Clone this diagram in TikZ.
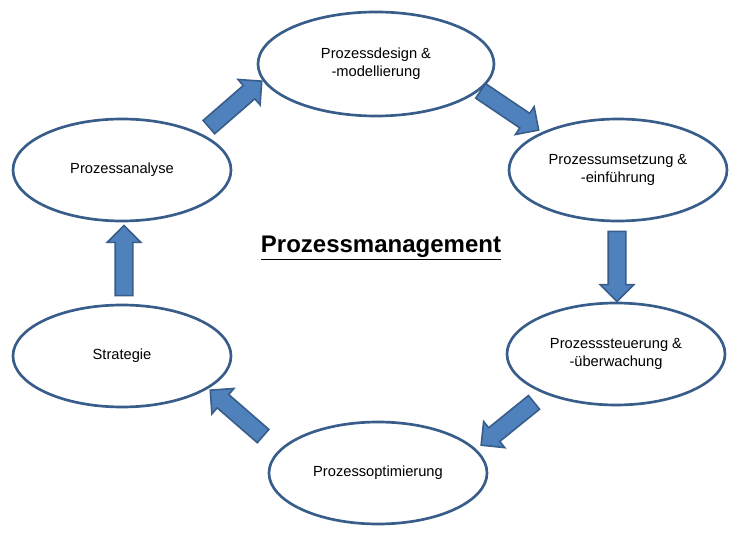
\documentclass[tikz,border=0pt]{standalone}
\usepackage{fontspec}
\setmainfont{Liberation Sans}
\usetikzlibrary{shapes.arrows,shapes.geometric}
\definecolor{bord}{HTML}{385D8A}
\definecolor{fillb}{HTML}{4F81BD}
\tikzset{
 ell/.style={draw=bord,line width=2pt,fill=white,ellipse,inner sep=0pt,align=center,font=\fontsize{11}{13.5}\selectfont},
 barrow/.style={single arrow,draw=bord,fill=fillb,line width=1.2pt,inner xsep=0pt,inner ysep=6pt,single arrow head extend=6pt,single arrow head indent=0pt,single arrow tip angle=90}
}
\newcommand{\ellnode}[6]{\path (#1*0.75pt,-#2*0.75pt) node[ell,minimum width=#3*1.5pt,minimum height=#4*1.5pt] (#5) {#6};}
\newcommand{\arr}[5]{\path (#1*0.75pt,-#2*0.75pt) node[barrow,rotate=#3,minimum height=#4*0.75pt] (#5) {};}
\begin{document}
\begin{tikzpicture}
\useasboundingbox (0,0) rectangle (562.5pt,-400.5pt);
\ellnode{376}{64}{118}{52}{design}{Prozessdesign \&\\-modellierung}
\ellnode{618}{170}{109}{51}{umsetz}{Prozessumsetzung \&\\-einführung}
\ellnode{616}{354}{109}{51}{steuer}{Prozesssteuerung \&\\-überwachung}
\ellnode{378}{473}{109}{51}{optim}{Prozessoptimierung}
\ellnode{122}{356}{109}{51}{strat}{Strategie}
\ellnode{122}{170}{109}{51}{analyse}{Prozessanalyse}
\arr{232}{107}{41}{70}{a1}
\arr{506}{108}{-34}{70}{a2}
\arr{617}{262}{-90}{70}{a3}
\arr{511}{421}{-141}{68}{a4}
\arr{240}{416}{139}{70}{a5}
\arr{124}{265}{90}{70}{a6}
\node[font=\fontsize{18}{21}\selectfont\bfseries] (title) at (381*0.75pt,-248*0.75pt) {\underline{Prozessmanagement}};
\end{tikzpicture}
\end{document}
